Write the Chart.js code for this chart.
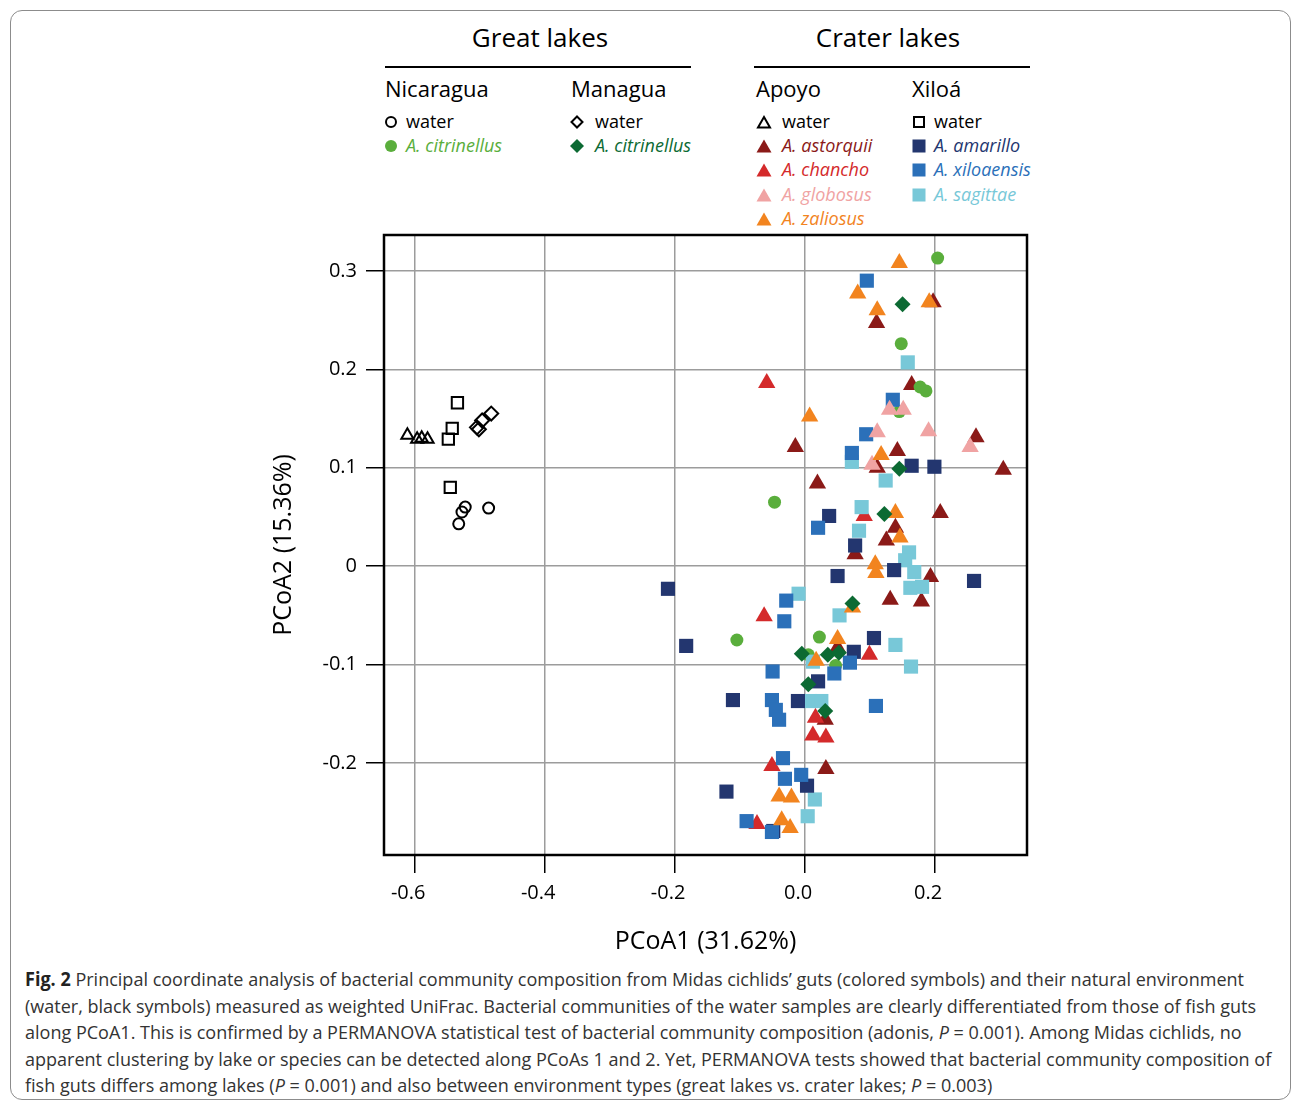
<!DOCTYPE html>
<html>
<head>
<meta charset="utf-8">
<script src="https://cdn.jsdelivr.net/npm/chart.js@4.4.1/dist/chart.umd.min.js"></script>
<style>
  body { margin: 0; background: #fff; font-family: "Open Sans", sans-serif; }
  #frame { position: absolute; left: 10px; top: 10px; width: 1279px; height: 1088px;
           border: 1px solid #8c8c8c; border-radius: 12px; }
  #wrap { position: absolute; left: 250px; top: 225px; width: 800px; height: 740px; }
  .t { position: absolute; white-space: nowrap; line-height: 1.2; color: #000; }
  .rule { position: absolute; height: 0; border-top: 2.5px solid #000; }
  #cap { position: absolute; left: 25px; top: 966px; font-size: 19px; line-height: 26.5px;
         color: #333; white-space: nowrap; transform-origin: 0 0; }
  #cap div { display: table; }
</style>
</head>
<body>
<div id="frame"></div>
<div id="legend"></div>
<div id="wrap"><canvas id="pcoa" width="800" height="740"></canvas></div>
<div id="cap">
  <div id="cap1"><b style="color:#222">Fig. 2</b> Principal coordinate analysis of bacterial community composition from Midas cichlids’ guts (colored symbols) and their natural environment</div>
  <div>(water, black symbols) measured as weighted UniFrac. Bacterial communities of the water samples are clearly differentiated from those of fish guts</div>
  <div>along PCoA1. This is confirmed by a PERMANOVA statistical test of bacterial community composition (adonis, <i>P</i> = 0.001). Among Midas cichlids, no</div>
  <div>apparent clustering by lake or species can be detected along PCoAs 1 and 2. Yet, PERMANOVA tests showed that bacterial community composition of</div>
  <div>fish guts differs among lakes (<i>P</i> = 0.001) and also between environment types (great lakes vs. crater lakes; <i>P</i> = 0.003)</div>
</div>
<script>
// axis ticks
const xTicks = [-0.6, -0.4, -0.2, 0, 0.2];
const xTickLabels = ["-0.6", "-0.4", "-0.2", "0.0", "0.2"];
const yTicks = [-0.2, -0.1, 0, 0.1, 0.2, 0.3];
const yTickLabels = ["-0.2", "-0.1", "0", "0.1", "0.2", "0.3"];

const lakeTypes = ["Great lakes", "Crater lakes"];
const lakes = ["Nicaragua", "Managua", "Apoyo", "Xiloá"];

// [PCoA1, PCoA2]
const nicaraguaWater = [[-0.487, 0.059], [-0.523, 0.060], [-0.528, 0.055], [-0.533, 0.043]];
const managuaWater = [[-0.483, 0.155], [-0.497, 0.148], [-0.505, 0.141], [-0.502, 0.139]];
const apoyoWater = [[-0.612, 0.133], [-0.597, 0.129], [-0.590, 0.130], [-0.581, 0.129]];
const xiloaWater = [[-0.535, 0.166], [-0.543, 0.140], [-0.549, 0.129], [-0.546, 0.080]];

const citrinellusNic = [[0.204, 0.313], [0.148, 0.226], [0.177, 0.182], [0.186, 0.178], [0.145, 0.157],
  [-0.047, 0.065], [-0.105, -0.075], [0.022, -0.072], [0.047, -0.101], [0.005, -0.090]];
const citrinellusMan = [[0.150, 0.266], [0.145, 0.099], [0.122, 0.053], [0.073, -0.038], [-0.005, -0.089],
  [0.035, -0.090], [0.052, -0.088], [0.005, -0.120], [0.031, -0.147]];
const astorquii = [[0.110, 0.247], [0.197, 0.268], [0.164, 0.184], [0.263, 0.131], [0.305, 0.098],
  [-0.015, 0.121], [0.142, 0.117], [0.111, 0.100], [0.019, 0.084], [0.208, 0.054], [0.139, 0.039],
  [0.125, 0.026], [0.077, 0.012], [0.193, -0.011], [0.131, -0.034], [0.179, -0.036], [0.050, -0.083],
  [0.031, -0.156], [0.032, -0.206]];
const chancho = [[-0.059, 0.186], [0.091, 0.051], [-0.063, -0.051], [0.099, -0.090], [0.016, -0.154],
  [0.012, -0.172], [0.032, -0.174], [-0.051, -0.203], [-0.074, -0.262]];
const globosus = [[0.130, 0.159], [0.151, 0.159], [0.111, 0.136], [0.190, 0.137], [0.254, 0.121], [0.103, 0.103]];
const zaliosus = [[0.145, 0.308], [0.081, 0.277], [0.111, 0.260], [0.191, 0.268], [0.007, 0.152],
  [0.117, 0.113], [0.139, 0.054], [0.146, 0.029], [0.108, 0.002], [0.109, -0.007], [0.073, -0.042],
  [0.050, -0.074], [0.017, -0.096], [-0.040, -0.234], [-0.021, -0.235], [-0.036, -0.258], [-0.023, -0.266]];
const amarillo = [[0.037, 0.051], [-0.211, -0.023], [0.164, 0.102], [0.199, 0.101], [0.077, 0.021],
  [0.137, -0.004], [0.260, -0.015], [0.050, -0.010], [0.106, -0.073], [0.075, -0.087], [0.020, -0.117],
  [-0.011, -0.137], [0.003, -0.223], [-0.049, -0.269], [-0.183, -0.081], [-0.111, -0.136], [-0.121, -0.229]];
const xiloaensis = [[0.095, 0.290], [0.135, 0.169], [0.094, 0.134], [0.072, 0.115], [0.020, 0.039],
  [-0.029, -0.035], [-0.032, -0.056], [-0.050, -0.107], [-0.051, -0.136], [-0.045, -0.146], [-0.040, -0.156],
  [-0.034, -0.195], [-0.031, -0.216], [-0.006, -0.212], [-0.090, -0.259], [-0.051, -0.270], [0.045, -0.109],
  [0.069, -0.098], [0.109, -0.142]];
const sagittae = [[0.158, 0.207], [0.072, 0.106], [0.124, 0.087], [0.087, 0.060], [0.083, 0.036],
  [0.160, 0.014], [0.154, 0.006], [0.168, -0.006], [0.162, -0.022], [0.180, -0.021], [0.053, -0.050],
  [-0.010, -0.028], [0.139, -0.080], [0.163, -0.102], [0.012, -0.097], [0.008, -0.137], [0.025, -0.137],
  [0.015, -0.237], [0.004, -0.254]];

// lake index, label, points, shape, colour (null = open black symbol)
const series = [
  [0, "water", nicaraguaWater, "circle", null],
  [0, "A. citrinellus", citrinellusNic, "circle", "#5aae3c"],
  [1, "water", managuaWater, "rectRot", null],
  [1, "A. citrinellus", citrinellusMan, "rectRot", "#0c6a33"],
  [2, "water", apoyoWater, "triangle", null],
  [2, "A. astorquii", astorquii, "triangle", "#8b1a18"],
  [2, "A. chancho", chancho, "triangle", "#d42a2b"],
  [2, "A. globosus", globosus, "triangle", "#f0a3a3"],
  [2, "A. zaliosus", zaliosus, "triangle", "#f2841f"],
  [3, "water", xiloaWater, "rect", null],
  [3, "A. amarillo", amarillo, "rect", "#23366f"],
  [3, "A. xiloaensis", xiloaensis, "rect", "#2b70b9"],
  [3, "A. sagittae", sagittae, "rect", "#78c8d8"],
];

// drawing order, first = on top
const drawOrder = [0, 2, 4, 9, 3, 8, 7, 11, 10, 12, 1, 6, 5];

const filledRadius = { circle: 6.5, rectRot: 8, triangle: 10, rect: 10 };
const openRadius = { circle: 5.5, rectRot: 7, triangle: 7, rect: 8 };

const datasets = drawOrder.map((i) => {
  const [lake, label, pts, shape, color] = series[i];
  return {
    label: lakes[lake] + " " + label,
    data: pts.map((p) => ({ x: p[0], y: p[1] })),
    pointStyle: shape,
    pointRadius: color ? filledRadius[shape] : openRadius[shape],
    backgroundColor: color || "rgba(0,0,0,0)",
    borderColor: color ? color : "#000",
    borderWidth: color ? 0 : 2,
    showLine: false,
  };
});

// ---- legend (html) ----
const legend = document.getElementById("legend");
function addText(text, x, y, size, opts) {
  const d = document.createElement("div");
  d.className = "t";
  d.textContent = text;
  d.style.left = x + "px";
  d.style.top = y + "px";
  d.style.fontSize = size + "px";
  d.style.transform = opts && opts.center ? "translate(-50%,-50%)" : "translateY(-50%)";
  if (opts && opts.color) d.style.color = opts.color;
  if (opts && opts.italic) d.style.fontStyle = "italic";
  legend.appendChild(d);
}
function svgMarker(shape, color) {
  const open = !color;
  let s;
  if (shape === "circle") s = open ? '<circle cx="8" cy="8" r="5"/>' : '<circle cx="8" cy="8" r="6"/>';
  else if (shape === "triangle") s = open ? '<polygon points="8,3 14,13.5 2,13.5"/>' : '<polygon points="8,1.5 15.5,14.5 0.5,14.5"/>';
  else if (shape === "rect") s = open ? '<rect x="3" y="3" width="10" height="10"/>' : '<rect x="1.5" y="1.5" width="13" height="13"/>';
  else s = open ? '<polygon points="8,2.5 13.5,8 8,13.5 2.5,8"/>' : '<polygon points="8,1 15,8 8,15 1,8"/>';
  return '<svg width="16" height="16" viewBox="0 0 16 16" fill="' + (open ? "none" : color) +
    '" stroke="' + (open ? "#000" : "none") + '" stroke-width="2">' + s + "</svg>";
}

addText(lakeTypes[0], 540, 38, 26, { center: true });
addText(lakeTypes[1], 888, 38, 26, { center: true });
[[385, 306], [754, 276]].forEach(([x, w]) => {
  const r = document.createElement("div");
  r.className = "rule";
  r.style.left = x + "px"; r.style.top = "66px"; r.style.width = w + "px";
  legend.appendChild(r);
});
const colX = [[385, 391, 406], [571, 577, 595], [756, 764, 782], [912, 919, 934]];
const rowY = [122, 146, 170, 195, 219];
lakes.forEach((lk, li) => addText(lk, colX[li][0], 88, 22));
const rowCount = [0, 0, 0, 0];
series.forEach(([lake, label, pts, shape, color]) => {
  const r = rowCount[lake]++;
  const y = rowY[r];
  const m = document.createElement("div");
  m.style.position = "absolute";
  m.style.left = (colX[lake][1] - 8) + "px";
  m.style.top = (y - 8) + "px";
  m.style.lineHeight = "0";
  m.innerHTML = svgMarker(shape, color);
  legend.appendChild(m);
  addText(label, colX[lake][2], y, 18, { color: color || "#000", italic: !!color });
});

// ---- chart ----
const boxPlugin = {
  id: "box",
  afterDatasetsDraw(chart) {
    const { ctx, chartArea: a } = chart;
    ctx.save();
    ctx.strokeStyle = "#000";
    ctx.lineWidth = 2.5;
    ctx.strokeRect(a.left, a.top, a.right - a.left, a.bottom - a.top);
    ctx.restore();
  },
};

const tickFont = { family: "Open Sans", size: 20 };
const titleFont = { family: "Open Sans", size: 25 };
const grid = { color: "#9c9c9c", lineWidth: 1.5, tickColor: "#000", tickLength: 18, tickWidth: 1.5 };

new Chart(document.getElementById("pcoa"), {
  type: "scatter",
  data: { datasets },
  plugins: [boxPlugin],
  options: {
    responsive: false,
    animation: false,
    events: [],
    layout: { padding: { top: 10, right: 23, left: 0, bottom: 0 } },
    plugins: { legend: { display: false }, tooltip: { enabled: false } },
    scales: {
      x: {
        type: "linear", min: -0.648, max: 0.3415,
        afterBuildTicks: (a) => { a.ticks = xTicks.map((v) => ({ value: v })); },
        afterFit: (a) => { a.height = 110; a.paddingLeft = 0; a.paddingRight = 0; },
        ticks: { callback: (v, i) => xTickLabels[i], font: tickFont, color: "#000", padding: 8,
                 labelOffset: -7, maxRotation: 0, autoSkip: false },
        grid: grid,
        border: { display: false },
        title: { display: true, text: "PCoA1 (31.62%)", font: titleFont, color: "#000", padding: { bottom: 8, top: 0 } },
      },
      y: {
        type: "linear", min: -0.2934, max: 0.3364,
        afterBuildTicks: (a) => { a.ticks = yTicks.map((v) => ({ value: v })); },
        afterFit: (a) => { a.width = 134; a.paddingTop = 0; a.paddingBottom = 0; },
        ticks: { callback: (v, i) => yTickLabels[i], font: tickFont, color: "#000", padding: 9, autoSkip: false },
        grid: grid,
        border: { display: false },
        title: { display: true, text: "PCoA2 (15.36%)", font: titleFont, color: "#000", padding: { top: 19, bottom: 0 } },
      },
    },
  },
});

// squeeze caption to the reference line length
const cap = document.getElementById("cap");
const w1 = document.getElementById("cap1").getBoundingClientRect().width;
cap.style.transform = "scaleX(" + (1219 / w1) + ")";
</script>
</body>
</html>
